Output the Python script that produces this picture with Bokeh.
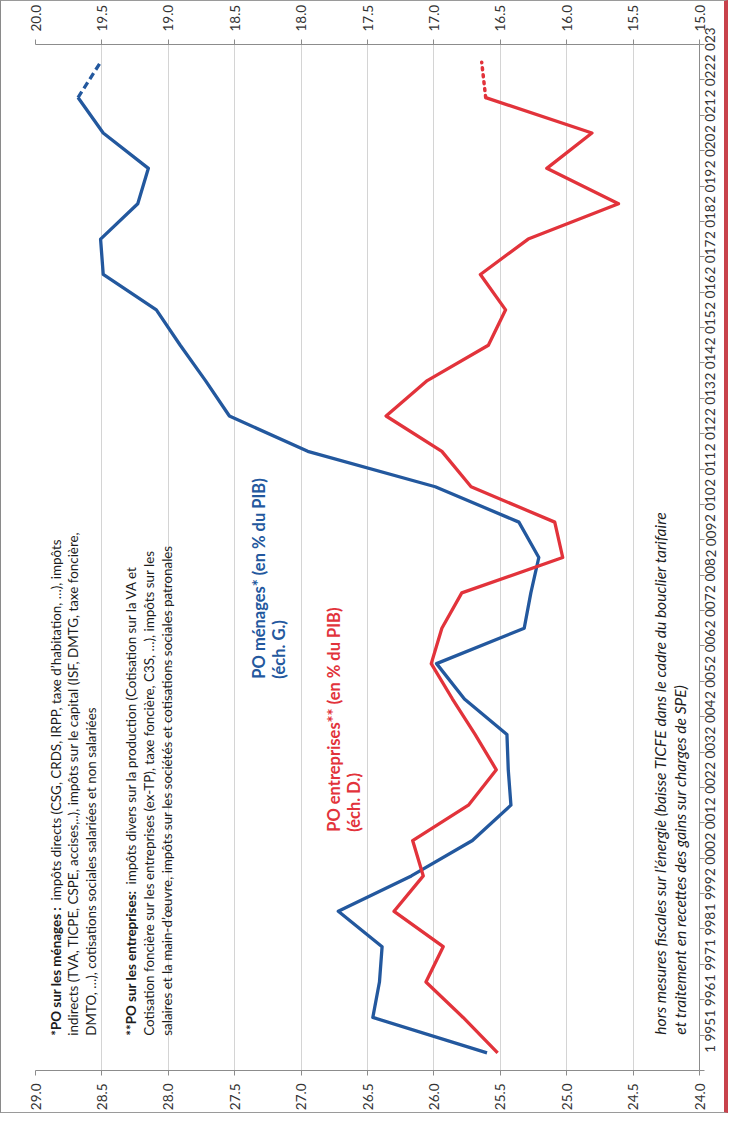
import math
from bokeh.plotting import figure
from bokeh.models import Range1d, LinearAxis, FixedTicker, PrintfTickFormatter
from bokeh.core.properties import value
from bokeh.embed import file_html
from bokeh.resources import INLINE

# ---------------- data ----------------
years = [1995, 1996, 1997, 1998, 1999, 2000, 2001, 2002, 2003, 2004,
         2005, 2006, 2007, 2008, 2009, 2010, 2011, 2012, 2013, 2014,
         2015, 2016, 2017, 2018, 2019, 2020, 2021, 2022, 2023]
year_labels = ["1 995", "1 996", "1 997", "1 998", "1 999", "2 000", "2 001",
               "2 002", "2 003", "2 004", "2 005", "2 006", "2 007", "2 008",
               "2 009", "2 010", "2 011", "2 012", "2 013", "2 014", "2 015",
               "2 016", "2 017", "2 018", "2 019", "2 020", "2 021", "2 022",
               "2 023"]
# PO ménages (% du PIB), left scale
menages = [25.60, 26.46, 26.41, 26.39, 26.72, 26.17, 25.71, 25.42, 25.44, 25.45,
           25.77, 25.98, 25.32, 25.27, 25.21, 25.36, 25.99, 26.95, 27.54, 27.72,
           27.91, 28.09, 28.49, 28.51, 28.23, 28.15, 28.49, 28.68, 28.51]
# PO entreprises (% du PIB), right scale
entreprises = [16.52, 16.78, 17.06, 16.93, 17.30, 17.08, 17.16, 16.74, 16.53, 16.69,
               16.86, 17.02, 16.94, 16.79, 16.03, 16.09, 16.72, 16.94, 17.36, 17.05,
               16.59, 16.46, 16.65, 16.29, 15.61, 16.15, 15.81, 16.61, 16.64]
menages_ticks = [24.0, 24.5, 25.0, 25.5, 26.0, 26.5, 27.0, 27.5, 28.0, 28.5, 29.0]
entreprises_ticks = [15.0, 15.5, 16.0, 16.5, 17.0, 17.5, 18.0, 18.5, 19.0, 19.5, 20.0]

BLUE = "#23589e"
RED = "#e2333b"
TXT = "#1c1c1c"
AXC = "#8c8c8c"
FONT = "Lato"

W, H = 728, 1113
p = figure(width=W, height=H, x_range=Range1d(29, 24), y_range=Range1d(1994.5, 2023.5),
           output_backend="svg", toolbar_location=None,
           x_axis_location="below", y_axis_location="right",
           min_border_left=34, min_border_right=29, min_border_top=37, min_border_bottom=44)
p.extra_x_ranges = {"ent": Range1d(20, 15)}
p.outline_line_color = None
p.background_fill_color = "white"
p.border_fill_color = "white"
p.styles = {"border-left": "1px solid #8a8a8a", "border-bottom": "1px solid #9a9a9a",
            "border-top": "1px solid #9a9a9a", "border-right": "4px solid #c8424c"}

def style_value_axis(ax, ticks):
    ax.ticker = FixedTicker(ticks=ticks)
    ax.formatter = PrintfTickFormatter(format="%.1f")
    ax.major_label_orientation = math.pi / 2
    ax.major_label_text_font = FONT
    ax.major_label_text_font_size = "13.5px"
    ax.major_label_text_color = "#333333"
    ax.major_label_standoff = 8
    ax.axis_line_color = AXC
    ax.major_tick_line_color = AXC
    ax.major_tick_in = 0
    ax.major_tick_out = 5
    ax.minor_tick_line_color = None

xa = p.xaxis[0]
style_value_axis(xa, menages_ticks)
top = LinearAxis(x_range_name="ent")
style_value_axis(top, entreprises_ticks)
p.add_layout(top, "above")

ya = p.yaxis[0]
ya.ticker = FixedTicker(ticks=years, minor_ticks=[y - 0.5 for y in years] + [years[-1] + 0.5])
ya.major_label_overrides = dict(zip(years, year_labels))
ya.major_label_orientation = math.pi / 2
ya.major_label_text_font = FONT
ya.major_label_text_font_size = "13.5px"
ya.major_label_text_color = "#333333"
ya.major_label_standoff = 5
ya.major_tick_line_color = None
ya.minor_tick_in = 0
ya.minor_tick_out = 5
ya.minor_tick_line_color = AXC
ya.axis_line_color = AXC

p.xgrid.grid_line_color = "#d4d4d4"
p.ygrid.grid_line_color = None

# ---------------- series ----------------
n = len(years)
p.line(x=menages[:n - 1], y=years[:n - 1], line_color=BLUE, line_width=3.3, line_join="round")
p.line(x=menages[n - 2:], y=years[n - 2:], line_color=BLUE, line_width=3.3, line_dash="7 4")
p.line(x=entreprises[:n - 1], y=years[:n - 1], x_range_name="ent", line_color=RED,
       line_width=3.3, line_join="round")
p.line(x=entreprises[n - 2:], y=years[n - 2:], x_range_name="ent", line_color=RED,
       line_width=3.5, line_dash="2 5", line_cap="round")

# ---------------- annotations (positions in ménages/year coordinates) ----------------
def vx(px):   # reference-pixel column -> left-scale value
    return 29 - (px - 41.7) / 133.06

def yy(py):   # reference-pixel row -> year coordinate
    return 1995 + (1060.2 - py) / 35.57

ANG = math.pi / 2

def txt(x, y, s, size, color=TXT, style="normal"):
    p.text(x=[x], y=[y], text=[s], angle=ANG, text_align="left", text_baseline="middle",
           text_font=value(FONT), text_font_size=size, text_color=color,
           text_font_style=style)

BS = "13.4px"
# block 1
txt(vx(62), yy(1043), "*PO sur les ménages :", BS, style="bold")
txt(vx(62), yy(907), "impôts directs (CSG, CRDS, IRPP, taxe d’habitation, …), impôts", BS)
txt(vx(79.5), yy(1043), "indirects (TVA, TICPE, CSPE, accises,..), impôts sur le capital (ISF, DMTG, taxe foncière,", BS)
txt(vx(97), yy(1043), "DMTO, …), cotisations sociales salariées et non salariées", BS)
# block 2
txt(vx(137), yy(1043), "**PO sur les entreprises:", BS, style="bold")
txt(vx(137), yy(891), "impôts divers sur la production (Cotisation sur la VA et", BS)
txt(vx(155), yy(1043), "Cotisation foncière sur les entreprises (ex-TP), taxe foncière, C3S, …), impôts sur les", BS)
txt(vx(173), yy(1043), "salaires et la main-d’œuvre, impôts sur les sociétés et cotisations sociales patronales", BS)
# series labels
LS = "16.5px"
txt(vx(266), yy(684), "PO ménages* (en % du PIB)", LS, color=BLUE, style="bold")
txt(vx(286), yy(684), "(éch. G.)", LS, color=BLUE, style="bold")
txt(vx(341), yy(838), "PO entreprises**  (en % du PIB)", LS, color=RED, style="bold")
txt(vx(361), yy(838), "(éch. D.)", LS, color=RED, style="bold")
# note
NS = "15.6px"
txt(vx(667), yy(1042), "hors mesures fiscales sur l’énergie (baisse TICFE dans le cadre du bouclier tarifaire", NS, style="italic")
txt(vx(687), yy(1042), "et traitement en recettes des gains sur charges de SPE)", NS, style="italic")

open("out.html", "w").write(file_html(p, INLINE))
